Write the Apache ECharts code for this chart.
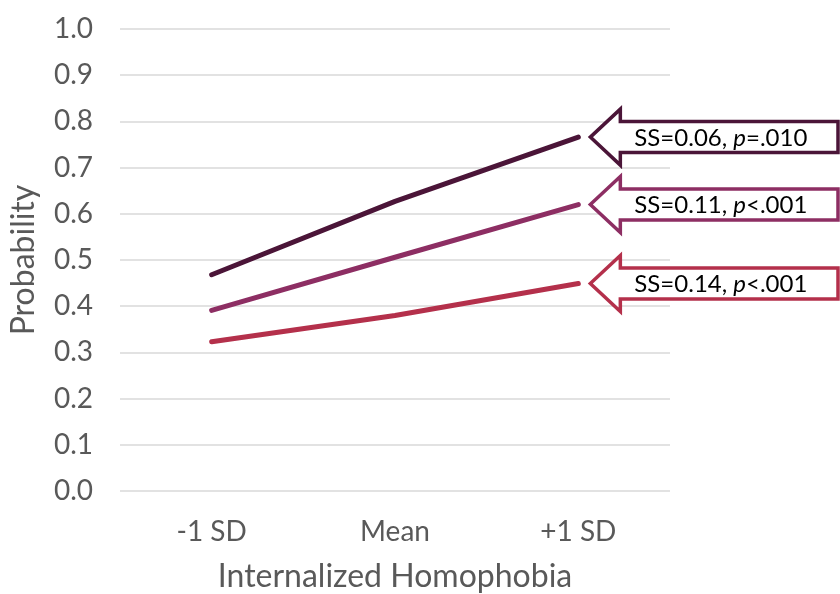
<!DOCTYPE html>
<html>
<head>
<meta charset="utf-8">
<script src="https://cdn.jsdelivr.net/npm/echarts@6/dist/echarts.min.js"></script>
<style>html,body{margin:0;padding:0;background:#fff;}#c{width:840px;height:594px;}</style>
</head>
<body>
<div id="c"></div>
<script>
const categories = ['-1 SD', 'Mean', '+1 SD'];
const seriesTop = [0.468, 0.627, 0.766];
const seriesMid = [0.391, 0.506, 0.620];
const seriesLow = [0.323, 0.380, 0.449];
const annotSS = ['0.06', '0.11', '0.14'];
const annotP = ['=.010', '<.001', '<.001'];
const colors = ['#4b1538', '#8d2e63', '#b4304b'];
const yTicks = [0, 0.1, 0.2, 0.3, 0.4, 0.5, 0.6, 0.7, 0.8, 0.9, 1.0];

const FONT = 'Lato';
const chart = echarts.init(document.getElementById('c'));
const allSeries = [seriesTop, seriesMid, seriesLow];
chart.setOption({
  animation: false,
  backgroundColor: '#fff',
  grid: {left: 120, right: 170, top: 29, bottom: 103, containLabel: false, outerBoundsMode: 'none'},
  xAxis: {
    type: 'category', data: categories, boundaryGap: true,
    axisLine: {show: false}, axisTick: {show: false},
    axisLabel: {color: '#595959', fontSize: 28, fontFamily: FONT, margin: 27},
    name: 'Internalized Homophobia', nameLocation: 'middle', nameGap: 70,
    nameTextStyle: {color: '#595959', fontSize: 32, fontFamily: FONT}
  },
  yAxis: {
    type: 'value', min: 0, max: 1, interval: 0.1,
    axisLine: {show: false}, axisTick: {show: false},
    splitLine: {lineStyle: {color: '#d9d9d9', width: 1.5}},
    axisLabel: {color: '#595959', fontSize: 28, fontFamily: FONT, margin: 27,
      formatter: v => v.toFixed(1)},
    name: 'Probability', nameLocation: 'middle', nameGap: 80,
    nameTextStyle: {color: '#595959', fontSize: 32, fontFamily: FONT}
  },
  series: allSeries.map((d, i) => ({
    type: 'line', data: d, symbol: 'none',
    lineStyle: {color: colors[i], width: 5, cap: 'round', join: 'round'}
  }))
});

const graphics = [];
allSeries.forEach((d, i) => {
  const p = chart.convertToPixel({gridIndex: 0}, [categories.length - 1, d[d.length - 1]]);
  const tipX = p[0] + 12, y = p[1];
  const headW = 30, headH = 28, bodyH = 15.5, rightX = 838;
  graphics.push({
    type: 'polygon', z: 10,
    shape: {points: [
      [tipX, y], [tipX + headW, y - headH], [tipX + headW, y - bodyH],
      [rightX, y - bodyH], [rightX, y + bodyH], [tipX + headW, y + bodyH],
      [tipX + headW, y + headH]
    ]},
    style: {fill: '#fff', stroke: colors[i], lineWidth: 3.5, lineJoin: 'miter'}
  });
  graphics.push({
    type: 'text', z: 11, x: tipX + 44, y: y + 1,
    style: {
      text: '{n|SS=' + annotSS[i] + ', }{i|p}{n|' + annotP[i] + '}',
      verticalAlign: 'middle', align: 'left',
      rich: {
        n: {fontSize: 24, fontFamily: FONT, fill: '#000'},
        i: {fontSize: 24, fontFamily: FONT, fontStyle: 'italic', fill: '#000'}
      }
    }
  });
});
chart.setOption({graphic: graphics});
</script>
</body>
</html>
